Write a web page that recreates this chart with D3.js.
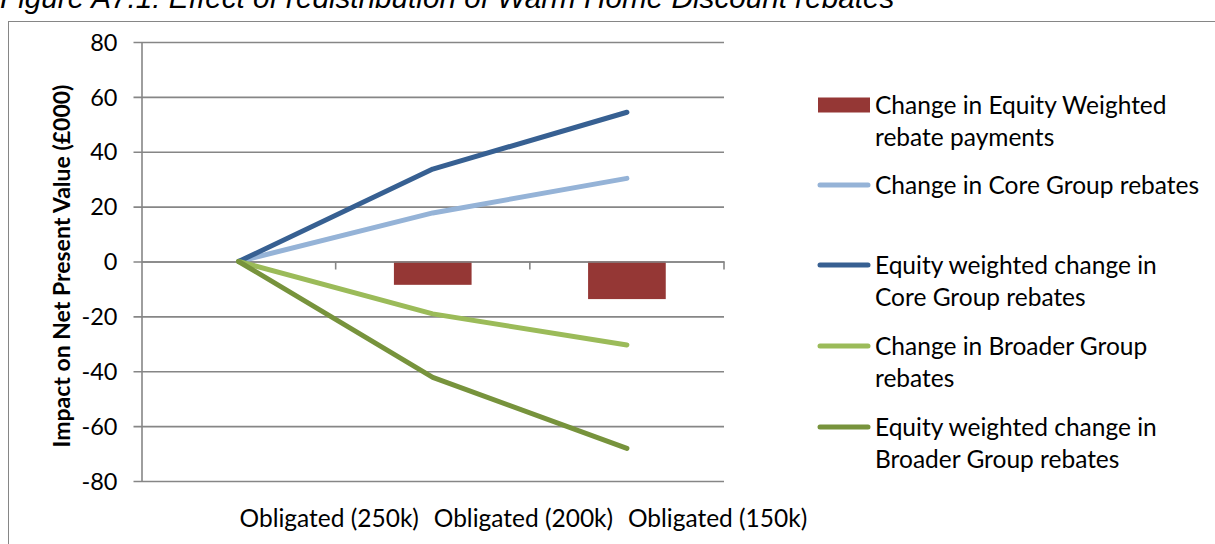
<!DOCTYPE html>
<html>
<head>
<meta charset="utf-8">
<script src="https://cdn.jsdelivr.net/npm/d3@7"></script>
<style>
  html, body { margin: 0; padding: 0; background: #ffffff; }
  svg { display: block; }
</style>
</head>
<body>
<svg id="chart" width="1215" height="544"></svg>
<script>
// Categories along the horizontal axis
const categories = ["Obligated (250k)", "Obligated (200k)", "Obligated (150k)"];

// Bar series: change in equity weighted rebate payments (£000)
const equityWeightedPayments = [0, -8.5, -13.7];

// Line series (£000)
const coreGroup = [0, 17.7, 30.3];
const equityCoreGroup = [0, 33.7, 54.4];
const broaderGroup = [0, -19.1, -30.4];
const equityBroaderGroup = [0, -42.2, -68.1];

// Value axis ticks
const yTicks = [80, 60, 40, 20, 0, -20, -40, -60, -80];

const title = "Figure A7.1: Effect of redistribution of Warm Home Discount rebates";
const yTitle = "Impact on Net Present Value (£000)";

const lineSeries = [
  { name: "Change in Core Group rebates", values: coreGroup, color: "#95b3d7" },
  { name: "Equity weighted change in Core Group rebates", values: equityCoreGroup, color: "#376092" },
  { name: "Change in Broader Group rebates", values: broaderGroup, color: "#9bbb59" },
  { name: "Equity weighted change in Broader Group rebates", values: equityBroaderGroup, color: "#77933c" }
];

const legendItems = [
  { type: "bar", color: "#953735", lines: ["Change in Equity Weighted", "rebate payments"], y: 105 },
  { type: "line", color: "#95b3d7", lines: ["Change in Core Group rebates"], y: 185 },
  { type: "line", color: "#376092", lines: ["Equity weighted change in", "Core Group rebates"], y: 265 },
  { type: "line", color: "#9bbb59", lines: ["Change in Broader Group", "rebates"], y: 346 },
  { type: "line", color: "#77933c", lines: ["Equity weighted change in", "Broader Group rebates"], y: 427 }
];

const FONT = "Lato, 'Open Sans', sans-serif";
const AXIS_GREY = "#868686";

const svg = d3.select("#chart");

// Figure caption (partly clipped at the top edge)
svg.append("text")
  .attr("x", 0)
  .attr("y", 8)
  .attr("font-family", "'Liberation Sans', Arial, sans-serif")
  .attr("font-style", "italic")
  .attr("font-size", 29.7)
  .attr("fill", "#000")
  .text(title);

// Chart frame
svg.append("rect")
  .attr("x", 8.5).attr("y", 21.5)
  .attr("width", 1300).attr("height", 600)
  .attr("fill", "none")
  .attr("stroke", AXIS_GREY)
  .attr("stroke-width", 1);

const plotLeft = 141.5, plotRight = 724, plotTop = 42, plotBottom = 481;

const x = d3.scaleBand()
  .domain(categories)
  .range([plotLeft, plotRight])
  .paddingInner(0).paddingOuter(0);

const barWidth = x.bandwidth() / 2.5;

const y = d3.scaleLinear()
  .domain([-80, 80])
  .range([plotBottom, plotTop]);

const cx = c => x(c) + x.bandwidth() / 2;

// Horizontal gridlines with outward tick marks
const gridAxis = d3.axisLeft(y)
  .tickValues(yTicks)
  .tickSize(-(plotRight - plotLeft))
  .tickFormat("");
const gGrid = svg.append("g")
  .attr("transform", `translate(${plotLeft},0)`)
  .call(gridAxis);
gGrid.select(".domain").remove();
gGrid.selectAll(".tick line")
  .attr("x1", -8)
  .attr("stroke", AXIS_GREY)
  .attr("stroke-width", 1.6);

// Value axis labels (plain hyphen for negatives)
const yAxis = d3.axisLeft(y)
  .tickValues(yTicks)
  .tickSize(0)
  .tickPadding(24)
  .tickFormat(d => String(d));
const gY = svg.append("g")
  .attr("transform", `translate(${plotLeft},0)`)
  .call(yAxis);
gY.select(".domain")
  .attr("stroke", AXIS_GREY)
  .attr("stroke-width", 1.6);
gY.selectAll(".tick text")
  .attr("font-family", FONT)
  .attr("font-size", 23.5)
  .attr("fill", "#000")
  .attr("dy", "0.35em");

// Bars
svg.append("g")
  .selectAll("rect")
  .data(categories.map((c, i) => ({ c, v: equityWeightedPayments[i] })))
  .join("rect")
  .attr("x", d => cx(d.c) - barWidth / 2)
  .attr("y", d => y(Math.max(0, d.v)))
  .attr("width", barWidth)
  .attr("height", d => Math.abs(y(d.v) - y(0)))
  .attr("fill", "#953735");

// Category axis along zero
const xAxis = d3.axisBottom(x)
  .tickSize(0)
  .tickFormat("");
const gX = svg.append("g")
  .attr("transform", `translate(0,${y(0)})`)
  .call(xAxis);
gX.select(".domain")
  .attr("stroke", AXIS_GREY)
  .attr("stroke-width", 1.6);
// tick marks at category boundaries
gX.selectAll(".boundary")
  .data(categories.slice(1).map(c => x(c)).concat([plotRight]))
  .join("line")
  .attr("class", "boundary")
  .attr("x1", d => d).attr("x2", d => d)
  .attr("y1", 0).attr("y2", 8)
  .attr("stroke", AXIS_GREY)
  .attr("stroke-width", 1.6);

// Category labels beneath the plot
svg.append("g")
  .selectAll("text")
  .data(categories)
  .join("text")
  .attr("x", d => cx(d) + 1)
  .attr("y", 518)
  .attr("dy", "0.35em")
  .attr("text-anchor", "start")
  .attr("font-family", FONT)
  .attr("font-size", 24.5)
  .attr("fill", "#000")
  .text(d => d);

// Lines
const line = d3.line()
  .x((v, i) => cx(categories[i]))
  .y(v => y(v));

svg.append("g")
  .selectAll("path")
  .data(lineSeries)
  .join("path")
  .attr("d", d => line(d.values))
  .attr("fill", "none")
  .attr("stroke", d => d.color)
  .attr("stroke-width", 5)
  .attr("stroke-linecap", "round")
  .attr("stroke-linejoin", "round");

// Value axis title
svg.append("text")
  .attr("transform", `translate(62,266) rotate(-90)`)
  .attr("text-anchor", "middle")
  .attr("dy", "0.35em")
  .attr("font-family", FONT)
  .attr("font-weight", "bold")
  .attr("font-size", 23)
  .attr("fill", "#000")
  .text(yTitle);

// Legend
const gL = svg.append("g");
legendItems.forEach(item => {
  if (item.type === "bar") {
    gL.append("rect")
      .attr("x", 818).attr("y", item.y - 7.5)
      .attr("width", 52).attr("height", 15)
      .attr("fill", item.color);
  } else {
    gL.append("line")
      .attr("x1", 820).attr("x2", 868)
      .attr("y1", item.y).attr("y2", item.y)
      .attr("stroke", item.color)
      .attr("stroke-width", 5)
      .attr("stroke-linecap", "round");
  }
  item.lines.forEach((t, k) => {
    gL.append("text")
      .attr("x", 875)
      .attr("y", item.y + k * 32.5)
      .attr("dy", "0.35em")
      .attr("font-family", FONT)
      .attr("font-size", 24.5)
      .attr("fill", "#000")
      .text(t);
  });
});
</script>
</body>
</html>
